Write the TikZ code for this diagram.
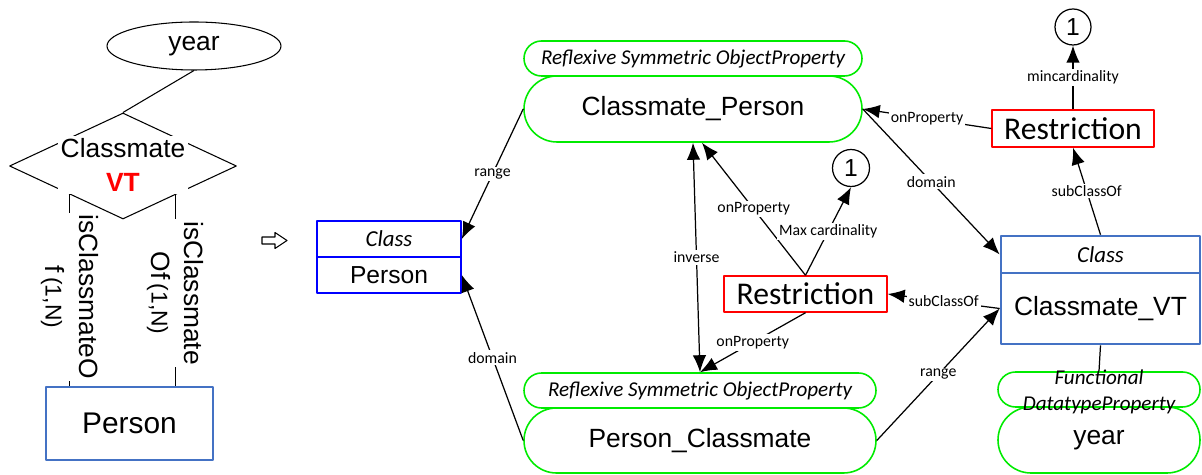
\documentclass[tikz,border=0pt]{standalone}
\usepackage{fontspec}
\setmainfont{Liberation Sans}
\newfontfamily\lblfont{Carlito}
\usetikzlibrary{shapes.geometric,arrows.meta}
\definecolor{erblue}{RGB}{68,114,196}
\definecolor{pgreen}{RGB}{0,235,0}
\begin{document}
\begin{tikzpicture}[line join=round, >={Latex[length=0.34cm,width=0.27cm]},
	big/.style={font=\fontsize{15}{19}\selectfont},
	itl/.style={font=\lblfont\itshape\fontsize{12}{15}\selectfont},
	lbl/.style={font=\lblfont\fontsize{9}{10}\selectfont, fill=white, inner sep=1pt},
	pill/.style={draw=pgreen, line width=0.9pt, rounded corners=#1, inner sep=0pt},
	clsbox/.style={draw=blue, line width=0.9pt, minimum width=2.88cm, minimum height=0.72cm, inner sep=0pt},
	vtbox/.style={draw=erblue, line width=1.5pt, minimum width=3.98cm, inner sep=0pt},
	restr/.style={draw=red, line width=0.8pt, inner sep=0pt, font=\lblfont\fontsize{18}{20}\selectfont},
	card/.style={draw, circle, line width=0.7pt, inner sep=0pt, font=\fontsize{14}{16}\selectfont},
	conn/.style={line width=0.7pt}]
	\useasboundingbox (0,0) rectangle (24.04,9.5);
	% ER part
	\node[draw, ellipse, line width=0.6pt, minimum width=3.48cm, minimum height=0.96cm, inner sep=0pt, big] (year) at (3.88,8.58) {year};
	\node[draw, diamond, line width=0.6pt, minimum width=4.54cm, minimum height=2.12cm, inner sep=0pt] (rel) at (2.46,6.18) {};
	\node[draw=erblue, line width=1.6pt, minimum width=3.34cm, minimum height=1.46cm, font=\fontsize{17}{20}\selectfont] (per) at (2.59,1.03) {Person};
	\draw[line width=0.6pt] (year.south)--(rel.north);
	\coordinate (c1) at ([xshift=0.50cm]per.north west);
	\coordinate (c2) at ([xshift=-0.78cm]per.north east);
	\draw[line width=0.6pt] (c1)--(c1 |- rel.south west) node[pos=0.46, rotate=-90, fill=white, align=center, big, inner sep=1pt] (lab1) {isClassmateO\\f\,{\fontsize{13}{15}\selectfont(1,N)}};
	\draw[line width=0.6pt] (c2)--(c2 |- rel.south east) node[pos=0.48, rotate=-90, fill=white, align=center, big, inner sep=1pt] (lab2) {isClassmate\\Of\,{\fontsize{13}{15}\selectfont(1,N)}};
	\node[fill=white, align=center, big, inner sep=1.5pt] (relText) at (2.46,6.20) {Classmate\\\textcolor{red}{\bfseries VT}};
	\draw[line width=0.6pt] (5.24,4.62)--(5.50,4.62)--(5.50,4.53)--(5.74,4.69)--(5.50,4.85)--(5.50,4.76)--(5.24,4.76)--cycle;
	% ontology part
	\node[pill=0.35cm, minimum width=6.76cm, minimum height=0.70cm, itl] (cpT) at (13.86,8.33) {Reflexive Symmetric ObjectProperty};
	\node[pill=0.66cm, minimum width=6.76cm, minimum height=1.32cm, big] (cp) at (13.86,7.32) {Classmate\_Person};
	\node[pill=0.35cm, minimum width=7.04cm, minimum height=0.70cm, itl] (pcT) at (14.00,1.69) {Reflexive Symmetric ObjectProperty};
	\node[pill=0.65cm, minimum width=7.04cm, minimum height=1.30cm, big] (pc) at (14.00,0.69) {Person\_Classmate};
	\node[clsbox, font=\lblfont\itshape\fontsize{13}{15}\selectfont] (clsPh) at (7.78,4.72) {Class};
	\node[clsbox, font=\fontsize{14}{16}\selectfont] (clsPb) at (7.78,4.00) {Person};
	\node[vtbox, minimum height=0.74cm, font=\lblfont\itshape\fontsize{13}{15}\selectfont] (clsVh) at (22.01,4.41) {Class};
	\node[vtbox, minimum height=1.42cm, big] (clsVb) at (22.01,3.33) {Classmate\_VT};
	\node[restr, minimum width=3.26cm, minimum height=0.72cm] (r1) at (16.11,3.62) {Restriction};
	\node[restr, minimum width=3.24cm, minimum height=0.74cm] (r2) at (21.46,6.93) {Restriction};
	\node[card, minimum size=0.74cm] (one1) at (17.02,6.14) {1};
	\node[card, minimum size=0.72cm] (one2) at (21.46,8.96) {1};
	\node[pill=0.35cm, minimum width=4.04cm, minimum height=0.70cm] (fdT) at (21.98,1.71) {};
	\node[pill=0.66cm, minimum width=4.04cm, minimum height=1.32cm, big] (yr) at (21.98,0.70) {year};
	\draw[line width=0.7pt] (clsVb.south)--(fdT.north);
	\node[itl, align=center, inner sep=0pt] (fdTx) at (21.98,1.66) {Functional\\DatatypeProperty};
	% connectors
	\draw[conn,->] (cp.west)--(clsPh.east) node[lbl,midway] {range};
	\draw[conn,->] (pc.west)--(clsPb.east) node[lbl,midway] {domain};
	\draw[conn,<->] (cp.south)--(pcT.north) node[lbl,midway] {inverse};
	\draw[conn,->] (r1.north)--([xshift=0.18cm]cp.south) node[lbl,midway] {onProperty};
	\draw[conn,->] (r1.north)--(one1.south) node[lbl,midway] {Max cardinality};
	\draw[conn,->] (r1.south)--(pcT.north) node[lbl,midway] {onProperty};
	\draw[conn,->] (clsVb.west)--(r1.east) node[lbl,midway] {subClassOf};
	\draw[conn,->] (pc.east)--(clsVb.west) node[lbl,midway] {range};
	\draw[conn,->] (cp.east)--(clsVh.west) node[lbl,midway] {domain};
	\draw[conn,->] (r2.west)--(cp.east) node[lbl,midway] {onProperty};
	\draw[conn,->] (clsVh.north)--(r2.south) node[lbl,midway] {subClassOf};
	\draw[conn,->] (r2.north)--(one2.south) node[lbl,midway] {mincardinality};
\end{tikzpicture}
\end{document}
